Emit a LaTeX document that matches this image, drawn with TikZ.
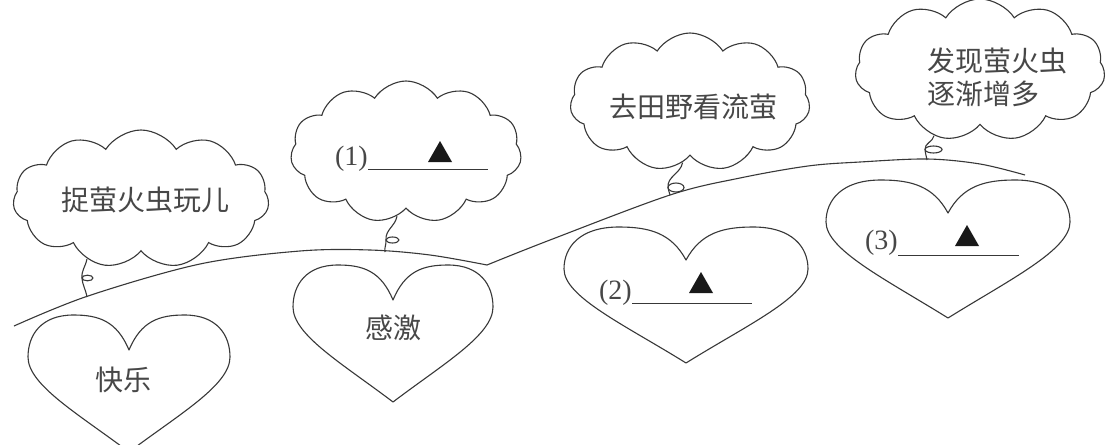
\documentclass[tikz,border=0pt]{standalone}
\usepackage{fontspec}
\setmainfont{Liberation Serif}
\newfontfamily\cjk{Noto Sans CJK SC}
\usetikzlibrary{shapes.symbols}
\definecolor{ink}{gray}{0.22}
\definecolor{txt}{gray}{0.28}
\tikzset{
  line/.style={draw=ink, line width=1.1pt, line join=round},
  cloudbox/.style={cloud, cloud puffs=11, cloud puff arc=115, cloud ignores aspect, draw=ink, line width=1.1pt, inner sep=0pt},
  cjktext/.style={text=txt, font=\cjk\fontsize{28}{33}\selectfont, inner sep=0pt},
  numtext/.style={text=txt, font=\fontsize{28}{33}\selectfont, inner sep=0pt},
  blank/.style={draw=ink, line width=1pt},
}
% cx, halfwidth, lobe top, notch, tip
\newcommand{\myheart}[5]{%
  \draw[line] (#1,#4) .. controls ({#1-0.12*#2},{#3+6}) and ({#1-0.3*#2},#3) .. ({#1-0.55*#2},#3)
   .. controls ({#1-0.87*#2},#3) and ({#1-#2},{#3+20}) .. ({#1-#2},{#3+42})
   .. controls ({#1-#2},{#3+70}) and ({#1-0.5*#2},{#5-38}) .. (#1,#5)
   .. controls ({#1+0.5*#2},{#5-38}) and ({#1+#2},{#3+70}) .. ({#1+#2},{#3+42})
   .. controls ({#1+#2},{#3+20}) and ({#1+0.87*#2},#3) .. ({#1+0.55*#2},#3)
   .. controls ({#1+0.3*#2},#3) and ({#1+0.12*#2},{#3+6}) .. cycle;}
% apex x, base y
\newcommand{\mytri}[2]{\fill[black!90] (#1,{#2-21}) -- ({#1-12},#2) -- ({#1+12},#2) -- cycle;}
% start, loop-left point, ellipse centre, rx, ry, end
\newcommand{\mytail}[6]{%
  \draw[line] (#1) to[out=-100,in=95] (#2) to[out=-85,in=100] (#6);
  \draw[line] (#3) ellipse [x radius=#4pt, y radius=#5pt];}
\begin{document}
\begin{tikzpicture}[x=1pt,y=-1pt]
\fill[white] (0,0) rectangle (1115,444);
\clip (0,0) rectangle (1115,444);

% main path
\draw[line] plot[smooth, tension=0.55] coordinates {(14,326) (88,296) (200,264) (300,251) (370,250) (430,255) (487,265)};
\draw[line] plot[smooth, tension=0.55] coordinates {(487,265) (550,240) (670,195) (740,178) (808,166) (860,162) (927,159) (980,164) (1025,175)};
\coordinate (e1) at (87,297);
\coordinate (e2) at (385,252);
\coordinate (e3) at (670,195);
\coordinate (e4) at (927,160);

% clouds
\node[cloudbox, minimum width=256pt, minimum height=138pt] (c1) at (141,199) {};
\node[cloudbox, minimum width=231pt, minimum height=142pt] (c2) at (406,152) {};
\node[cloudbox, minimum width=240pt, minimum height=138pt] (c3) at (690,102) {};
\node[cloudbox, minimum width=250pt, minimum height=142pt] (c4) at (980,70) {};

\node[cjktext] (t1) at (145,200) {捉萤火虫玩儿};
\node[cjktext] (t3) at (693,107) {去田野看流萤};
\node[cjktext, align=left] (t4) at (997,77) {发现萤火虫\\逐渐增多};

% tails
\mytail{c1.228}{82,278}{87.5,278}{5.5}{2.8}{e1}
\mytail{c2.262}{386,240}{392.5,240}{6.5}{3}{e2}
\mytail{c3.263}{668,187.5}{676,187.5}{8}{4.5}{e3}
\mytail{c4.235}{925,149.5}{933.5,149.5}{8.5}{3.5}{e4}

% hearts
\myheart{129}{101}{315}{350}{452}
\myheart{393}{100}{265}{300}{402}
\myheart{686}{122}{227}{260}{363}
\myheart{948}{122}{180}{213}{318}

\node[cjktext] (h1) at (123,380) {快乐};
\node[cjktext] (h2) at (393,328) {感激};

% fill-in blanks
\node[numtext, anchor=base east] (p1) at (368,165) {(1)};
\draw[blank] ([yshift=-4pt]p1.base east) -- ++(120,0);
\mytri{440}{162}
\node[numtext, anchor=base east] (p2) at (632,299) {(2)};
\draw[blank] ([yshift=-4pt]p2.base east) -- ++(120,0);
\mytri{701}{293}
\node[numtext, anchor=base east] (p3) at (898,249) {(3)};
\draw[blank] ([yshift=-6pt]p3.base east) -- ++(121,0);
\mytri{967}{246}
\end{tikzpicture}
\end{document}
